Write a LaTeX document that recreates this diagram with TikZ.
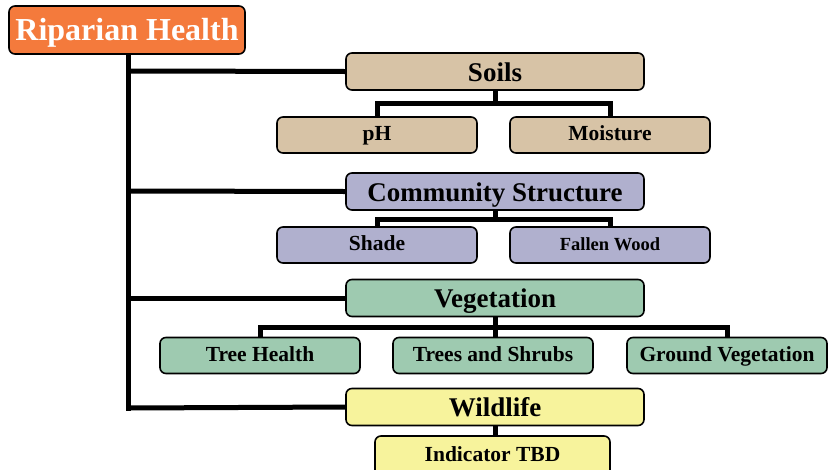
\documentclass[tikz,border=0pt]{standalone}
\usepackage{fontspec}
\setmainfont{Liberation Serif}
\usetikzlibrary{backgrounds}
\begin{document}
\begin{tikzpicture}[x=1pt,y=-1pt,
  box/.style={draw=black,line width=1.6pt,rounded corners=6pt,inner sep=0pt},
  root/.style={box,fill=rootc,text=white,minimum width=236pt,minimum height=48pt,font=\bfseries\fontsize{32}{34}\selectfont,text height=26pt,text depth=6pt},
  main/.style={box,minimum width=298pt,minimum height=37pt,font=\bfseries\fontsize{27}{29}\selectfont,text height=24pt,text depth=5pt},
  sub/.style={box,minimum width=200pt,minimum height=36pt,font=\bfseries\fontsize{21.5}{23}\selectfont,text height=15pt,text depth=4pt},
  small/.style={font=\bfseries\fontsize{18.5}{20}\selectfont,text height=15pt,text depth=3.5pt},
  link/.style={line width=5pt}]
\definecolor{rootc}{HTML}{F47A3C}
\definecolor{soilc}{HTML}{D7C3A6}
\definecolor{commc}{HTML}{B0B0CE}
\definecolor{vegc}{HTML}{9ECAB0}
\definecolor{wildc}{HTML}{F7F39C}
\useasboundingbox (0,0) rectangle (832,469);
\clip (0,0) rectangle (832,469);
% nodes
\node[root] (rip) at (127,30) {Riparian Health};
\node[main,fill=soilc] (soils) at (495,71.5) {Soils};
\node[sub,fill=soilc] (ph) at (377,135) {pH};
\node[sub,fill=soilc] (moist) at (610,135) {Moisture};
\node[main,fill=commc] (comm) at (495,191.5) {Community Structure};
\node[sub,fill=commc] (shade) at (377,245) {Shade};
\node[sub,fill=commc,small] (fallen) at (610,245) {Fallen Wood};
\node[main,fill=vegc] (veg) at (495,298) {Vegetation};
\node[sub,fill=vegc] (th) at (260,355.5) {Tree Health};
\node[sub,fill=vegc] (ts) at (493,355.5) {Trees and Shrubs};
\node[sub,fill=vegc] (gv) at (727,355.5) {Ground Vegetation};
\node[main,fill=wildc] (wild) at (495,407) {Wildlife};
\node[sub,fill=wildc,minimum width=235pt,minimum height=40pt] (ind) at (492.5,456) {Indicator TBD};
\coordinate (t0) at (rip.south -| 128,0);
\coordinate (t1) at (128,71);
\coordinate (t2) at (128,191);
\coordinate (t3) at (128,298);
\coordinate (t4) at (128,408);
\begin{scope}[on background layer]
% trunk
\draw[link] (t0) -- ([yshift=-2.5pt]t4);
\draw[link] (t1) -- (soils.west);
\draw[link] (t2) -- (comm.west);
\draw[link] (t3) -- (veg.west);
\draw[link] (t4) -- (wild.west);
% soils children
\draw[link] (soils.south) |- (ph.north |- 0,103) -- (ph.north);
\draw[link] (soils.south) |- (moist.north |- 0,103) -- (moist.north);
% community children
\draw[link] (comm.south) |- (shade.north |- 0,219) -- (shade.north);
\draw[link] (comm.south) |- (fallen.north |- 0,219) -- (fallen.north);
% vegetation children
\draw[link] (veg.south) |- (th.north |- 0,327) -- (th.north);
\draw[link] (veg.south) -- (veg.south |- ts.north);
\draw[link] (veg.south) |- (gv.north |- 0,327) -- (gv.north);
% wildlife child
\draw[link] (wild.south) -- (wild.south |- ind.north);
\end{scope}
\end{tikzpicture}
\end{document}
